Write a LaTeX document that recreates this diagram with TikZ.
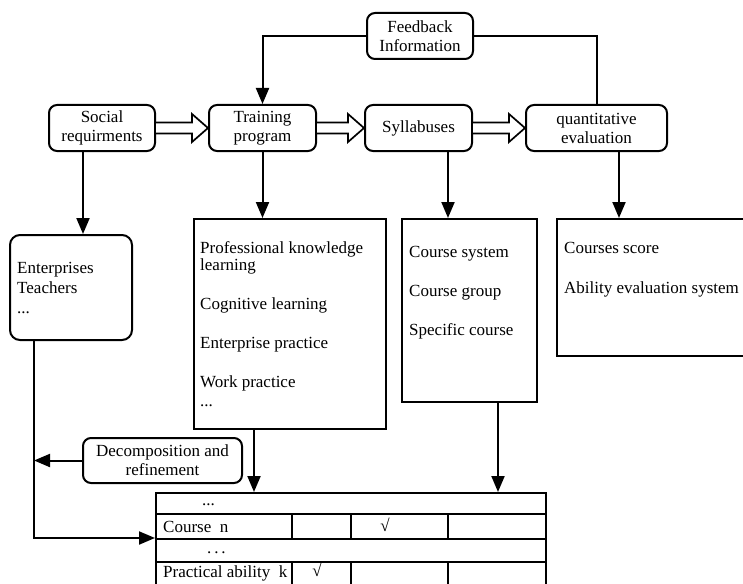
\documentclass[tikz,border=0pt]{standalone}
\usepackage{fontspec}
\setmainfont{Liberation Serif}
\usetikzlibrary{arrows.meta,calc}
\newcommand\fs{\fontsize{17}{19}\selectfont}
\begin{document}
\begin{tikzpicture}[x=1pt,y=-1pt,
 lw/.style={line width=2pt},
 rbox/.style={draw,lw,rounded corners=8pt,align=center,inner sep=0pt,font=\fs},
 sbox/.style={draw,lw,inner sep=0pt},
 txt/.style={anchor=base west,inner sep=0pt,font=\fs},
 ctxt/.style={anchor=base,inner sep=0pt,font=\fs},
 arr/.style={lw,-{Triangle[length=16pt,width=13pt]}},
 hollow/.style={draw,line width=1.7pt,fill=white,line join=miter}]
\useasboundingbox (0,0) rectangle (743,583);
\clip (0,0) rectangle (743,583);

% top row
\node[rbox,minimum width=106pt,minimum height=46pt] (soc) at (102,128) {Social\\requirments};
\node[rbox,minimum width=107pt,minimum height=46pt] (train) at (262.5,128) {Training\\program};
\node[rbox,minimum width=106pt,minimum height=46pt] (fb) at (420,36) {Feedback\\Information};
\node[rbox,minimum width=107pt,minimum height=46pt] (syl) at (418.5,128) {Syllabuses};
\node[rbox,minimum width=141pt,minimum height=46pt] (quant) at (596.5,128) {quantitative\\evaluation};

% content boxes
\node[sbox,rounded corners=10pt,minimum width=122pt,minimum height=105pt] (ent) at (71,287.5) {};
\node[sbox,minimum width=192pt,minimum height=210pt] (prof) at (290,324) {};
\node[sbox,minimum width=135pt,minimum height=183pt] (sylc) at (469.5,310.5) {};
\node[sbox,minimum width=203pt,minimum height=137pt] (quantc) at (658.5,287.5) {};
\node[rbox,minimum width=159pt,minimum height=45pt] (dec) at (162.5,460.5) {Decomposition and\\refinement};

% table
\node[sbox,minimum width=390pt,minimum height=110pt] (tab) at (351,548) {};
\draw[lw] (156,514) -- (546,514);
\draw[lw] (156,539) -- (546,539);
\draw[lw] (156,562) -- (546,562);
\foreach \x in {292,351,448} {
  \draw[lw] (\x,514) -- (\x,539);
  \draw[lw] (\x,562) -- (\x,603);
}

% texts
\node[txt] (p1) at (200,253) {Professional knowledge};
\node[txt] (p2) at (200,270) {learning};
\node[txt] (p3) at (200,309) {Cognitive learning};
\node[txt] (p4) at (200,348) {Enterprise practice};
\node[txt] (p5) at (200,387) {Work practice};
\node[txt] (p6) at (200,406) {...};
\node[txt] (e1) at (17,273) {Enterprises};
\node[txt] (e2) at (17,293) {Teachers};
\node[txt] (e3) at (17,313) {...};
\node[txt] (s1) at (409,257) {Course system};
\node[txt] (s2) at (409,296) {Course group};
\node[txt] (s3) at (409,335) {Specific course};
\node[txt] (q1) at (564,253) {Courses score};
\node[txt] (q2) at (564,293) {Ability evaluation system};
\node[txt] (r1) at (202,505) {...};
\node[txt] (r2) at (163,532) {Course\ \ n};
\node[txt] (r3) at (207,553) {.\,.\,.};
\node[txt] (r4) at (163,577) {Practical ability\ \ k};
\node[ctxt] (c1) at (385,531) {√};
\node[ctxt] (c2) at (317,576) {√};

% feedback lines
\draw[arr] (fb.west) -| (train.north);
\draw[lw] (fb.east) -| (quant.north);

% hollow arrows
\foreach \a/\b in {soc/train,train/syl,syl/quant} {
  \draw[hollow] ($(\a.east)+(0,-5.5)$) -- ($(\b.west)+(-16,-5.5)$) -- ($(\b.west)+(-16,-14)$) -- (\b.west) -- ($(\b.west)+(-16,14)$) -- ($(\b.west)+(-16,5.5)$) -- ($(\a.east)+(0,5.5)$);
}

% down arrows
\draw[arr] ([xshift=-19pt]soc.south) -- ([xshift=-19pt]soc.south |- ent.north);
\draw[arr] (train.south) -- (train.south |- prof.north);
\draw[arr] ([xshift=29.5pt]syl.south) -- ([xshift=29.5pt]syl.south |- sylc.north);
\draw[arr] ([xshift=22.5pt]quant.south) -- ([xshift=22.5pt]quant.south |- quantc.north);
\draw[arr] ([xshift=-36pt]prof.south) -- ([xshift=-36pt]prof.south |- tab.north);
\draw[arr] ([xshift=28.5pt]sylc.south) -- ([xshift=28.5pt]sylc.south |- tab.north);

% left side
\coordinate (ed) at ([xshift=-37pt]ent.south);
\draw[arr] (ed) |- ($(tab.north west)+(0,46)$);
\draw[arr] (dec.west) -- (dec.west -| ed);
\end{tikzpicture}
\end{document}
